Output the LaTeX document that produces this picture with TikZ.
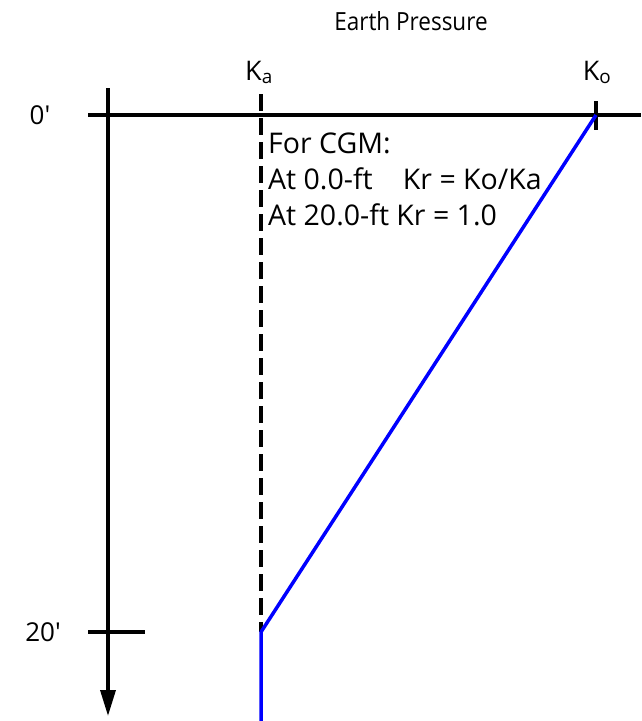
\documentclass[tikz,border=0pt]{standalone}
\usepackage{fontspec}
\setmainfont{Open Sans}
\newfontfamily\lblfont{Open Sans}[Ligatures=ResetAll]
\newfontfamily\titlefont{Open Sans}[FakeStretch=0.9]
\usetikzlibrary{arrows.meta}
\begin{document}
\begin{tikzpicture}[x=1pt,y=-1pt,
  axis/.style={line width=3.5pt,black},
  blueline/.style={line width=3.5pt,blue},
  dashline/.style={line width=3.5pt,black,dash pattern=on 17pt off 7pt},
  lbl/.style={font=\lblfont\fontsize{26}{28}\selectfont,inner sep=0pt},
  klbl/.style={font=\fontsize{27}{30}\selectfont,inner sep=0pt,anchor=base},
  note/.style={font=\fontsize{28.5}{36}\selectfont,inner sep=0pt,anchor=north west,align=left}]
\useasboundingbox (0,0) rectangle (641,721);
% coordinates
\coordinate (hl) at (88,115);
\coordinate (hr) at (641,115);
\coordinate (vt) at (108,88);
\coordinate (vb) at (108,716);
\coordinate (ka0) at (261,94);
\coordinate (ka20) at (261,632);
\coordinate (kabot) at (261,721);
\coordinate (ko0) at (596,115);
\coordinate (kot) at (596,101);
\coordinate (kob) at (596,130);
\coordinate (t20l) at (88,632);
\coordinate (t20r) at (145,632);
% labels
\node[inner sep=0pt,font=\titlefont\fontsize{25}{28}\selectfont] (title) at (411,21) {Earth Pressure};
\node[klbl] (ka) at (259,80) {K\textsubscript{a}};
\node[klbl] (ko) at (597,80) {K\textsubscript{o}};
\node[lbl] (z0) at (40,115) {0'};
\node[lbl] (z20) at (43,632) {20'};
\node[note] (txt) at (268,133) {For CGM:\\At 0.0-ft\hspace{0.8em} Kr = Ko/Ka\\At 20.0-ft Kr = 1.0};
% lines
\draw[dashline] (ka0) -- (ka20);
\draw[axis] (hl) -- (hr);
\draw[axis,-{Triangle[length=26pt,width=15pt]}] (vt) -- (vb);
\draw[axis] (kot) -- (kob);
\draw[axis] (t20l) -- (t20r);
\draw[blueline] (ko0) -- (ka20) -- (kabot);
\end{tikzpicture}
\end{document}
